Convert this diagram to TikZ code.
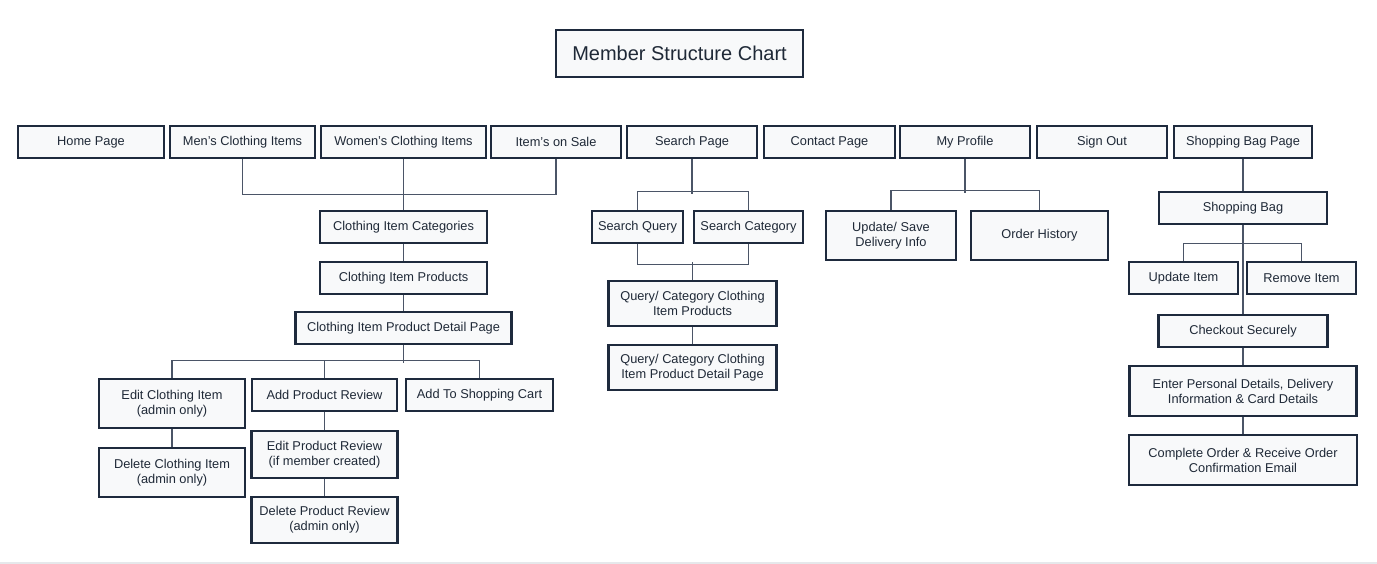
\documentclass[tikz,border=0pt]{standalone}
\usepackage{fontspec}
\setmainfont{Liberation Sans}
\usetikzlibrary{backgrounds}
\definecolor{bordercol}{HTML}{1E2A3D}
\definecolor{linecol}{HTML}{4B5567}
\definecolor{fillcol}{HTML}{F8F9FA}
\definecolor{textcol}{HTML}{1F2937}
\definecolor{rulecol}{HTML}{E6E8EB}
\tikzset{
  bx/.style={draw=bordercol, line width=2.6pt, fill=fillcol, text=textcol,
    inner sep=0pt, align=center, font=\fontsize{12.8}{15}\selectfont},
  conn/.style={draw=linecol, line width=1.3pt},
}
\begin{document}
\begin{tikzpicture}[x=1pt,y=-1pt]
\useasboundingbox (0,0) rectangle (1377,564);
% title
\node[bx, minimum width=247, minimum height=47, font=\fontsize{20}{24}\selectfont] (title) at (679.5,53.5) {Member Structure Chart};
% top row
\node[bx, minimum width=146, minimum height=32] (home) at (91,142) {Home Page};
\node[bx, minimum width=145, minimum height=32] (mens) at (242.5,142) {Men’s Clothing Items};
\node[bx, minimum width=165, minimum height=32] (womens) at (403.5,142) {Women’s Clothing Items};
\node[bx, minimum width=130, minimum height=32] (sale) at (556,142) {Item’s on Sale};
\node[bx, minimum width=130, minimum height=32] (search) at (692,142) {Search Page};
\node[bx, minimum width=131, minimum height=32] (contact) at (829.5,142) {Contact Page};
\node[bx, minimum width=130, minimum height=32] (profile) at (965,142) {My Profile};
\node[bx, minimum width=130, minimum height=32] (signout) at (1102,142) {Sign Out};
\node[bx, minimum width=138, minimum height=32] (bagpage) at (1243,142) {Shopping Bag Page};
% clothing branch
\node[bx, minimum width=167, minimum height=32] (cats) at (403.5,227) {Clothing Item Categories};
\node[bx, minimum width=167, minimum height=32] (prods) at (403.5,278) {Clothing Item Products};
\node[bx, minimum width=216, minimum height=32] (detail) at (403.5,328) {Clothing Item Product Detail Page};
\node[bx, minimum width=146, minimum height=49] (editci) at (172,403.5) {Edit Clothing Item\\(admin only)};
\node[bx, minimum width=145, minimum height=32] (addrev) at (324.5,395) {Add Product Review};
\node[bx, minimum width=147, minimum height=32] (addcart) at (479.5,395) {Add To Shopping Cart};
\node[bx, minimum width=146, minimum height=49] (delci) at (172,472.5) {Delete Clothing Item\\(admin only)};
\node[bx, minimum width=146, minimum height=47] (editrev) at (324.5,454.5) {Edit Product Review\\(if member created)};
\node[bx, minimum width=146, minimum height=46] (delrev) at (324.5,520) {Delete Product Review\\(admin only)};
% search branch
\node[bx, minimum width=91, minimum height=32] (sq) at (637.5,227) {Search Query};
\node[bx, minimum width=109, minimum height=32] (sc) at (748.5,227) {Search Category};
\node[bx, minimum width=168, minimum height=45] (qprods) at (692.5,303.5) {Query/ Category Clothing\\Item Products};
\node[bx, minimum width=168, minimum height=45] (qdetail) at (692.5,367.5) {Query/ Category Clothing\\Item Product Detail Page};
% profile branch
\node[bx, minimum width=130, minimum height=49] (upd) at (891,235.5) {Update/ Save\\Delivery Info};
\node[bx, minimum width=137, minimum height=49] (hist) at (1039.5,235.5) {Order History};
% bag branch
\node[bx, minimum width=168, minimum height=32] (bag) at (1243,208) {Shopping Bag};
\node[bx, minimum width=109, minimum height=32] (upitem) at (1183.5,278) {Update Item};
\node[bx, minimum width=109, minimum height=32] (rmitem) at (1301.5,278) {Remove Item};
\node[bx, minimum width=169, minimum height=32] (checkout) at (1243,331) {Checkout Securely};
\node[bx, minimum width=227, minimum height=50] (enter) at (1243,391) {Enter Personal Details, Delivery\\Information \& Card Details};
\node[bx, minimum width=228, minimum height=50] (complete) at (1243,460) {Complete Order \& Receive Order\\Confirmation Email};
% connectors
\begin{pgfonlayer}{background}
\fill[white] (0,0) rectangle (1377,564);
\draw[conn] (mens.south) -- ++(0,35) -| (sale.south);
\draw[conn] (womens.south) -- (cats.north);
\draw[conn] (cats.south) -- (prods.north);
\draw[conn] (prods.south) -- (detail.north);
\draw[conn] (detail.south) -- ++(0,18);
\draw[conn] (editci.north) -- ++(0,-17) -| (addcart.north);
\draw[conn] (addrev.north) -- ++(0,-17);
\draw[conn] (editci.south) -- (delci.north);
\draw[conn] (addrev.south) -- (editrev.north);
\draw[conn] (editrev.south) -- (delrev.north);
\draw[conn] (search.south) -- ++(0,35);
\draw[conn] (sq.north) -- ++(0,-18) -| (sc.north);
\draw[conn] (sq.south) -- ++(0,20) -| (sc.south);
\draw[conn] (qprods.north) -- ++(0,-18);
\draw[conn] (qprods.south) -- (qdetail.north);
\draw[conn] (profile.south) -- ++(0,34);
\draw[conn] (upd.north) -- ++(0,-19) -| (hist.north);
\draw[conn] (bagpage.south) -- (bag.north);
\draw[conn] (bag.south) -- (checkout.north);
\draw[conn] (upitem.north) -- ++(0,-17) -| (rmitem.north);
\draw[conn] (checkout.south) -- (enter.north);
\draw[conn] (enter.south) -- (complete.north);
\end{pgfonlayer}
\draw[rulecol, line width=1.2pt] (0,563) -- (1377,563);
\end{tikzpicture}
\end{document}
